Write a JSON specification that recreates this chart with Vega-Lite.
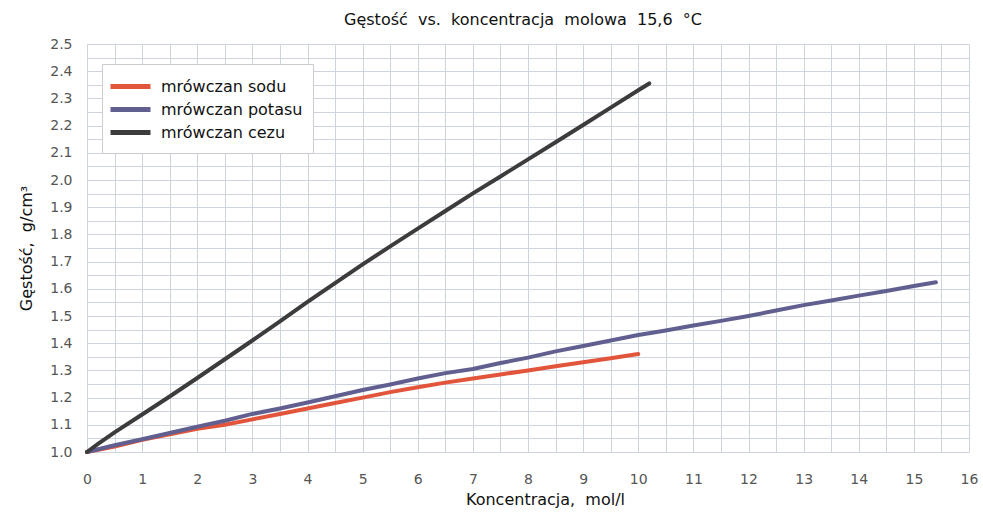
{
  "$schema": "https://vega.github.io/schema/vega-lite/v6.json",
  "width": 882,
  "height": 408,
  "autosize": {"type": "none"},
  "padding": {"left": 87, "top": 44, "right": 14, "bottom": 61},
  "background": "white",
  "title": {
    "text": "Gęstość\u00a0 vs.\u00a0 koncentracja\u00a0 molowa\u00a0 15,6\u00a0 °C",
    "anchor": "middle",
    "dx": -5,
    "offset": 9,
    "font": "DejaVu Sans",
    "fontSize": 16,
    "fontWeight": "normal",
    "color": "#111"
  },
  "config": {
    "view": {"stroke": null},
    "font": "DejaVu Sans"
  },
  "data": {
    "values": [
      {"s": "mrówczan sodu", "x": 0, "y": 1.0},
      {"s": "mrówczan sodu", "x": 0.5, "y": 1.02},
      {"s": "mrówczan sodu", "x": 1, "y": 1.045},
      {"s": "mrówczan sodu", "x": 1.5, "y": 1.065},
      {"s": "mrówczan sodu", "x": 2, "y": 1.085},
      {"s": "mrówczan sodu", "x": 2.5, "y": 1.1},
      {"s": "mrówczan sodu", "x": 3, "y": 1.12},
      {"s": "mrówczan sodu", "x": 3.5, "y": 1.14},
      {"s": "mrówczan sodu", "x": 4, "y": 1.16},
      {"s": "mrówczan sodu", "x": 4.5, "y": 1.18},
      {"s": "mrówczan sodu", "x": 5, "y": 1.2},
      {"s": "mrówczan sodu", "x": 5.5, "y": 1.22},
      {"s": "mrówczan sodu", "x": 6, "y": 1.238},
      {"s": "mrówczan sodu", "x": 6.5, "y": 1.255},
      {"s": "mrówczan sodu", "x": 7, "y": 1.27},
      {"s": "mrówczan sodu", "x": 7.5, "y": 1.285},
      {"s": "mrówczan sodu", "x": 8, "y": 1.3},
      {"s": "mrówczan sodu", "x": 8.5, "y": 1.315},
      {"s": "mrówczan sodu", "x": 9, "y": 1.33},
      {"s": "mrówczan sodu", "x": 9.5, "y": 1.345},
      {"s": "mrówczan sodu", "x": 10, "y": 1.36},
      {"s": "mrówczan potasu", "x": 0, "y": 1.0},
      {"s": "mrówczan potasu", "x": 0.5, "y": 1.025},
      {"s": "mrówczan potasu", "x": 1, "y": 1.047},
      {"s": "mrówczan potasu", "x": 1.5, "y": 1.07},
      {"s": "mrówczan potasu", "x": 2, "y": 1.093},
      {"s": "mrówczan potasu", "x": 2.5, "y": 1.115},
      {"s": "mrówczan potasu", "x": 3, "y": 1.14},
      {"s": "mrówczan potasu", "x": 3.5, "y": 1.16},
      {"s": "mrówczan potasu", "x": 4, "y": 1.182},
      {"s": "mrówczan potasu", "x": 4.5, "y": 1.205},
      {"s": "mrówczan potasu", "x": 5, "y": 1.228},
      {"s": "mrówczan potasu", "x": 5.5, "y": 1.248},
      {"s": "mrówczan potasu", "x": 6, "y": 1.27},
      {"s": "mrówczan potasu", "x": 6.5, "y": 1.29},
      {"s": "mrówczan potasu", "x": 7, "y": 1.305},
      {"s": "mrówczan potasu", "x": 7.5, "y": 1.327},
      {"s": "mrówczan potasu", "x": 8, "y": 1.347},
      {"s": "mrówczan potasu", "x": 8.5, "y": 1.37},
      {"s": "mrówczan potasu", "x": 9, "y": 1.39},
      {"s": "mrówczan potasu", "x": 9.5, "y": 1.41},
      {"s": "mrówczan potasu", "x": 10, "y": 1.43},
      {"s": "mrówczan potasu", "x": 10.5, "y": 1.447},
      {"s": "mrówczan potasu", "x": 11, "y": 1.465},
      {"s": "mrówczan potasu", "x": 11.5, "y": 1.482},
      {"s": "mrówczan potasu", "x": 12, "y": 1.5},
      {"s": "mrówczan potasu", "x": 12.5, "y": 1.52},
      {"s": "mrówczan potasu", "x": 13, "y": 1.54},
      {"s": "mrówczan potasu", "x": 13.5, "y": 1.557},
      {"s": "mrówczan potasu", "x": 14, "y": 1.575},
      {"s": "mrówczan potasu", "x": 14.5, "y": 1.592},
      {"s": "mrówczan potasu", "x": 15, "y": 1.61},
      {"s": "mrówczan potasu", "x": 15.4, "y": 1.624},
      {"s": "mrówczan cezu", "x": 0, "y": 1.0},
      {"s": "mrówczan cezu", "x": 0.2, "y": 1.03},
      {"s": "mrówczan cezu", "x": 0.5, "y": 1.072},
      {"s": "mrówczan cezu", "x": 1, "y": 1.138},
      {"s": "mrówczan cezu", "x": 1.5, "y": 1.204},
      {"s": "mrówczan cezu", "x": 2, "y": 1.272},
      {"s": "mrówczan cezu", "x": 2.5, "y": 1.341},
      {"s": "mrówczan cezu", "x": 3, "y": 1.41},
      {"s": "mrówczan cezu", "x": 3.5, "y": 1.48},
      {"s": "mrówczan cezu", "x": 4, "y": 1.552},
      {"s": "mrówczan cezu", "x": 4.5, "y": 1.621},
      {"s": "mrówczan cezu", "x": 5, "y": 1.69},
      {"s": "mrówczan cezu", "x": 5.5, "y": 1.756},
      {"s": "mrówczan cezu", "x": 6, "y": 1.821},
      {"s": "mrówczan cezu", "x": 6.5, "y": 1.886},
      {"s": "mrówczan cezu", "x": 7, "y": 1.951},
      {"s": "mrówczan cezu", "x": 7.5, "y": 2.013},
      {"s": "mrówczan cezu", "x": 8, "y": 2.076},
      {"s": "mrówczan cezu", "x": 8.5, "y": 2.139},
      {"s": "mrówczan cezu", "x": 9, "y": 2.202},
      {"s": "mrówczan cezu", "x": 9.5, "y": 2.266},
      {"s": "mrówczan cezu", "x": 10, "y": 2.33},
      {"s": "mrówczan cezu", "x": 10.2, "y": 2.355}
    ]
  },
  "mark": {"type": "line", "strokeWidth": 4, "strokeCap": "round", "strokeJoin": "round"},
  "encoding": {
    "x": {
      "field": "x",
      "type": "quantitative",
      "scale": {"domain": [0, 16], "nice": false, "zero": false},
      "axis": {
        "title": "Koncentracja,\u00a0 mol/l",
        "titleFont": "DejaVu Sans",
        "titleFontSize": 16,
        "titleFontWeight": "normal",
        "titleColor": "#111",
        "titlePadding": 5,
        "titleX": 458,
        "values": [0,0.5,1,1.5,2,2.5,3,3.5,4,4.5,5,5.5,6,6.5,7,7.5,8,8.5,9,9.5,10,10.5,11,11.5,12,12.5,13,13.5,14,14.5,15,15.5,16],
        "labelExpr": "datum.value % 1 === 0 ? format(datum.value, 'd') : ''",
        "labelOverlap": false,
        "labelFont": "DejaVu Sans",
        "labelFontSize": 14,
        "labelColor": "#555",
        "labelPadding": 20,
        "labelFlush": false,
        "ticks": false,
        "domain": false,
        "grid": true,
        "gridColor": "#cdd4de",
        "gridWidth": 1
      }
    },
    "y": {
      "field": "y",
      "type": "quantitative",
      "scale": {"domain": [1, 2.5], "nice": false, "zero": false},
      "axis": {
        "title": "Gęstość,\u00a0 g/cm³",
        "titleFont": "DejaVu Sans",
        "titleFontSize": 16,
        "titleFontWeight": "normal",
        "titleColor": "#111",
        "titlePadding": 15,
        "values": [1,1.05,1.1,1.15,1.2,1.25,1.3,1.35,1.4,1.45,1.5,1.55,1.6,1.65,1.7,1.75,1.8,1.85,1.9,1.95,2,2.05,2.1,2.15,2.2,2.25,2.3,2.35,2.4,2.45,2.5],
        "labelExpr": "round(datum.value * 100) % 10 === 0 ? format(datum.value, '.1f') : ''",
        "labelOverlap": false,
        "labelFont": "DejaVu Sans",
        "labelFontSize": 14,
        "labelColor": "#555",
        "labelPadding": 15,
        "labelFlush": false,
        "ticks": false,
        "domain": false,
        "grid": true,
        "gridColor": "#cdd4de",
        "gridWidth": 1
      }
    },
    "color": {
      "field": "s",
      "type": "nominal",
      "scale": {
        "domain": ["mrówczan sodu", "mrówczan potasu", "mrówczan cezu"],
        "range": ["#e2553b", "#615f8f", "#3c3c3c"]
      },
      "legend": {
        "title": null,
        "orient": "none",
        "legendX": 15,
        "legendY": 20,
        "symbolType": "M-2,0H2",
        "symbolSize": 400,
        "symbolStrokeWidth": 5,
        "symbolOffset": 6,
        "labelFontSize": 16,
        "labelColor": "#111",
        "labelFont": "DejaVu Sans",
        "labelOffset": 18,
        "rowPadding": 0,
        "padding": 10,
        "fillColor": "white",
        "strokeColor": "#cccccc"
      }
    }
  }
}
